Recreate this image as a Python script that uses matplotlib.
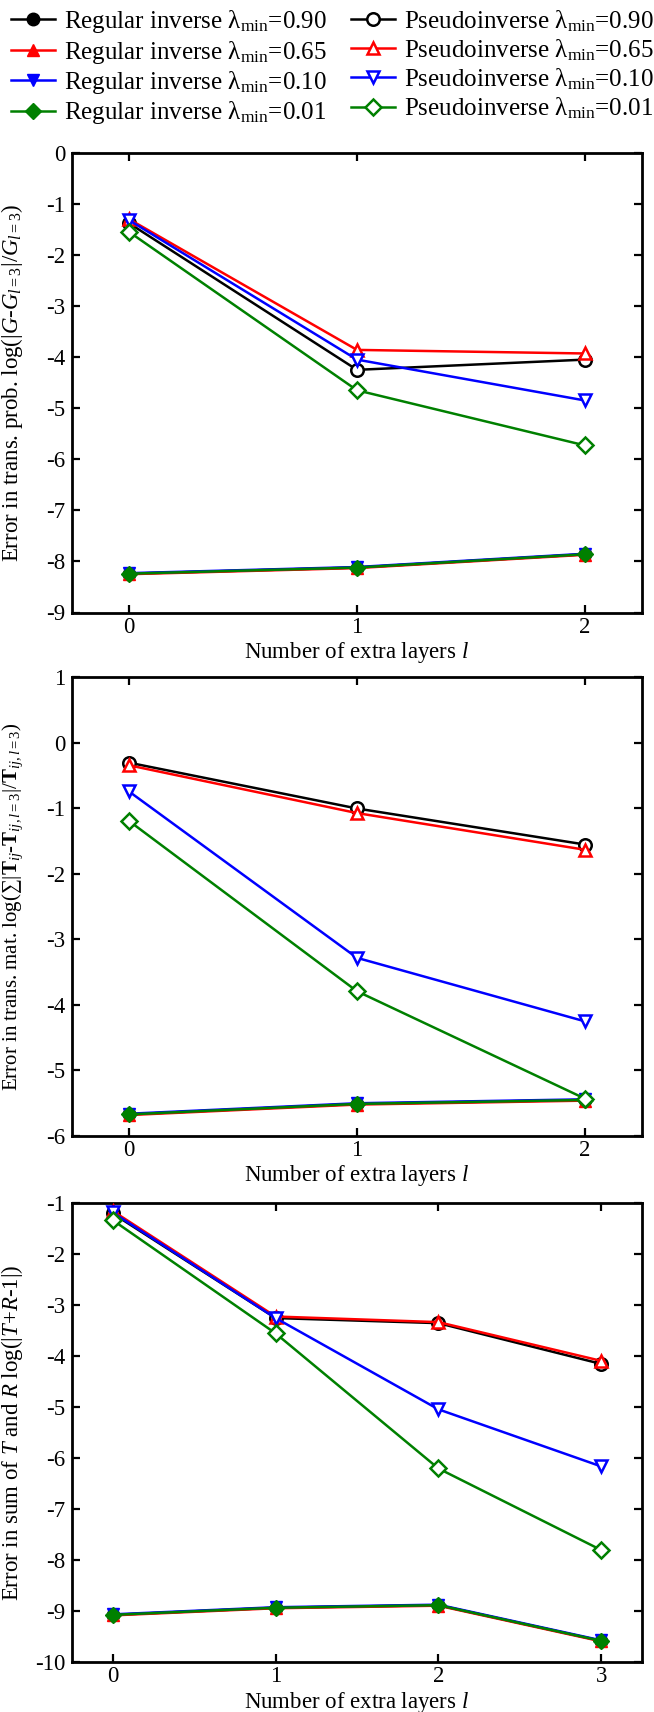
import matplotlib
matplotlib.use("Agg")
import matplotlib.pyplot as plt
from matplotlib.lines import Line2D

plt.rcParams['font.family'] = ['Liberation Serif', 'DejaVu Serif']
plt.rcParams['mathtext.fontset'] = 'custom'
plt.rcParams['mathtext.rm'] = 'Liberation Serif'
plt.rcParams['mathtext.it'] = 'Liberation Serif:italic'
plt.rcParams['mathtext.bf'] = 'Liberation Serif:bold'
plt.rcParams['axes.unicode_minus'] = False

# ---------------- data ----------------
lam_labels = ["0.90", "0.65", "0.10", "0.01"]
colors = ["black", "red", "blue", "green"]
reg_markers = ["o", "^", "v", "D"]

x_p1 = [0, 1, 2]
x_p2 = [0, 1, 2]
x_p3 = [0, 1, 2, 3]

# Panel 1: error in transmission probability
p1_regular = [
    [-8.24, -8.12, -7.86],
    [-8.25, -8.13, -7.87],
    [-8.23, -8.11, -7.85],
    [-8.24, -8.12, -7.86],
]
p1_pseudo = [
    [-1.38, -4.25, -4.05],
    [-1.30, -3.86, -3.93],
    [-1.32, -4.05, -4.85],
    [-1.55, -4.65, -5.73],
]

# Panel 2: error in transfer matrix
p2_regular = [
    [-5.67, -5.51, -5.45],
    [-5.68, -5.52, -5.46],
    [-5.66, -5.50, -5.44],
    [-5.67, -5.51, -5.45],
]
p2_pseudo = [
    [-0.30, -1.00, -1.55],
    [-0.34, -1.07, -1.63],
    [-0.74, -3.28, -4.25],
    [-1.19, -3.79, -5.43],
]

# Panel 3: error in sum of T and R
p3_regular = [
    [-9.07, -8.93, -8.88, -9.58],
    [-9.08, -8.94, -8.89, -9.59],
    [-9.06, -8.92, -8.87, -9.57],
    [-9.07, -8.93, -8.88, -9.58],
]
p3_pseudo = [
    [-1.20, -3.25, -3.35, -4.15],
    [-1.15, -3.22, -3.33, -4.09],
    [-1.18, -3.25, -5.04, -6.16],
    [-1.33, -3.55, -6.20, -7.80],
]

ylabels = [
    r'Error in trans. prob. log(|$G$-$G_{l=3}$|/$G_{l=3}$)',
    r'Error in trans. mat. log($\sum$|$\mathbf{T}_{ij}$-$\mathbf{T}_{ij,l=3}$|/$\mathbf{T}_{ij,l=3}$)',
    r'Error in sum of $T$ and $R$ log(|$T$+$R$-1|)',
]
ylabel_sizes = [16.5, 15.0, 16.5]
xlabel = r'Number of extra layers $l$'

# ---------------- figure ----------------
W, H = 654, 1712
fig = plt.figure(figsize=(W / 100, H / 100), dpi=100)

def fy(px):
    return 1 - px / H

panels = [
    dict(top=152.7, bottom=612.5, x=x_p1, reg=p1_regular, pse=p1_pseudo,
         ylim=(-9, 0), yticks=range(-9, 1), xlim=(-0.25, 2.25)),
    dict(top=677.5, bottom=1136.0, x=x_p2, reg=p2_regular, pse=p2_pseudo,
         ylim=(-6, 1), yticks=range(-6, 2), xlim=(-0.25, 2.25)),
    dict(top=1203.3, bottom=1662.3, x=x_p3, reg=p3_regular, pse=p3_pseudo,
         ylim=(-10, -1), yticks=range(-10, 0), xlim=(-0.25, 3.25)),
]

left, right = 72 / W, 642 / W
fs = 16.5

for i, p in enumerate(panels):
    ax = fig.add_axes([left, fy(p['bottom']), right - left, fy(p['top']) - fy(p['bottom'])])
    for c, m, yv in zip(colors, reg_markers, p['reg']):
        ms = 8 if m == 'D' else 9
        ax.plot(p['x'], yv, color=c, lw=1.8, marker=m, ms=ms, mfc=c, mec=c, zorder=2)
    for c, m, yv in zip(colors, reg_markers, p['pse']):
        ms = 8 if m == 'D' else 9
        ax.plot(p['x'], yv, color=c, lw=1.8, marker=m, ms=ms, mfc='white', mec=c,
                mew=1.8, zorder=3)
    ax.set_xlim(*p['xlim'])
    ax.set_ylim(*p['ylim'])
    ax.set_yticks(list(p['yticks']))
    ax.set_xticks(p['x'])
    ax.tick_params(direction='in', top=True, right=True, length=6, width=1.6,
                   labelsize=fs, pad=5)
    ax.tick_params(axis='x', pad=3)
    for s in ax.spines.values():
        s.set_linewidth(2)
    ax.set_xlabel(xlabel, fontsize=fs, labelpad=1.5)
    ax.set_ylabel(ylabels[i], fontsize=ylabel_sizes[i])
    ax.yaxis.set_label_coords(-0.082, 0.5)

# legend
handles = []
labels = []
for c, m, lab in zip(colors, reg_markers, lam_labels):
    ms = 8 if m == 'D' else 9
    handles.append(Line2D([], [], color=c, lw=1.8, marker=m, ms=ms, mfc=c, mec=c))
    labels.append('Regular inverse λ$_{\\mathrm{min}}$=' + lab)
for c, m, lab in zip(colors, reg_markers, lam_labels):
    ms = 8 if m == 'D' else 9
    handles.append(Line2D([], [], color=c, lw=1.8, marker=m, ms=ms, mfc='white', mec=c, mew=1.8))
    labels.append('Pseudoinverse λ$_{\\mathrm{min}}$=' + lab)

fig.legend(handles, labels, ncol=2, loc='upper left',
           bbox_to_anchor=(11 / W, 1 - 8 / H), frameon=False, fontsize=18,
           handlelength=1.75, handletextpad=0.35, columnspacing=1.0,
           labelspacing=0.14, borderpad=0, borderaxespad=0)

fig.savefig('out.png', dpi=100)
